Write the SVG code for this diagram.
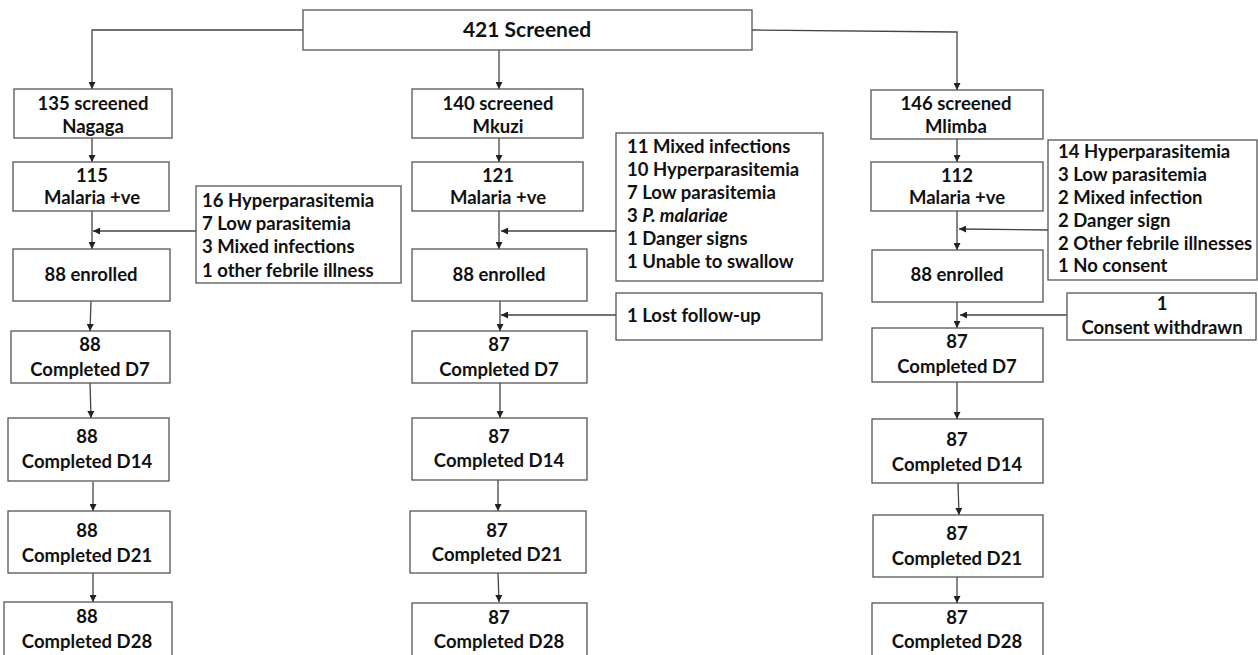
<svg xmlns="http://www.w3.org/2000/svg" width="1258" height="655" viewBox="0 0 1258 655">
<style>
.box{fill:#fff;stroke:#555;stroke-width:1.3}
.t{font-family:Lato,"Liberation Sans",sans-serif;font-weight:bold;font-size:18.5px;fill:#111;text-anchor:middle}
.s{font-family:Lato,"Liberation Sans",sans-serif;font-weight:bold;font-size:18.5px;fill:#111}
.c{fill:none;stroke:#444;stroke-width:1.3}
</style>
<defs>
<marker id="a" viewBox="0 0 10 10" refX="10" refY="5" markerWidth="7" markerHeight="7" markerUnits="userSpaceOnUse" orient="auto"><path d="M0,0L10,5L0,10z" fill="#222"/></marker>
</defs>
<g id="connectors">
<polyline class="c" points="303,30 92,30 92,89" marker-end="url(#a)"/>
<polyline class="c" points="752,30 957,32 957,90" marker-end="url(#a)"/>
<line class="c" x1="499" y1="50" x2="499" y2="89" marker-end="url(#a)"/>
<line class="c" x1="92" y1="138" x2="92" y2="162" marker-end="url(#a)"/>
<line class="c" x1="92" y1="211" x2="92" y2="249" marker-end="url(#a)"/>
<line class="c" x1="91" y1="301" x2="90" y2="331" marker-end="url(#a)"/>
<line class="c" x1="90" y1="383" x2="91" y2="418" marker-end="url(#a)"/>
<line class="c" x1="93" y1="482" x2="93" y2="511" marker-end="url(#a)"/>
<line class="c" x1="93" y1="573" x2="93" y2="602" marker-end="url(#a)"/>
<line class="c" x1="196" y1="231" x2="93" y2="231" marker-end="url(#a)"/>
<line class="c" x1="499" y1="138" x2="499" y2="162" marker-end="url(#a)"/>
<line class="c" x1="499" y1="211" x2="499" y2="249" marker-end="url(#a)"/>
<line class="c" x1="500" y1="301" x2="500" y2="331" marker-end="url(#a)"/>
<line class="c" x1="500" y1="383" x2="500" y2="418" marker-end="url(#a)"/>
<line class="c" x1="498" y1="480" x2="498" y2="511" marker-end="url(#a)"/>
<line class="c" x1="498" y1="573" x2="499" y2="602" marker-end="url(#a)"/>
<line class="c" x1="616" y1="231" x2="501" y2="231" marker-end="url(#a)"/>
<line class="c" x1="616" y1="315" x2="501" y2="315" marker-end="url(#a)"/>
<line class="c" x1="957" y1="139" x2="957" y2="162" marker-end="url(#a)"/>
<line class="c" x1="957" y1="211" x2="957" y2="250" marker-end="url(#a)"/>
<line class="c" x1="957" y1="302" x2="957" y2="328" marker-end="url(#a)"/>
<line class="c" x1="957" y1="382" x2="957" y2="419" marker-end="url(#a)"/>
<line class="c" x1="958" y1="483" x2="959" y2="515" marker-end="url(#a)"/>
<line class="c" x1="957" y1="577" x2="957" y2="603" marker-end="url(#a)"/>
<line class="c" x1="1048" y1="230" x2="959" y2="229" marker-end="url(#a)"/>
<line class="c" x1="1067" y1="315" x2="960" y2="315" marker-end="url(#a)"/>
</g>
<g id="n-total"><rect class="box" x="303" y="10" width="449" height="40"/><text class="t" x="527" y="37" style="font-size:21px">421 Screened</text></g>
<g id="n-nagaga"><rect class="box" x="14" y="89" width="158" height="49"/><text class="t" x="93" y="110">135 screened</text><text class="t" x="93" y="133">Nagaga</text></g>
<g id="n-nagaga-pos"><rect class="box" x="13" y="162" width="156" height="49"/><text class="t" x="92" y="182">115</text><text class="t" x="92" y="204">Malaria +ve</text></g>
<g id="n-nagaga-excl"><rect class="box" x="196" y="186" width="205" height="97"/><text class="s" x="202" y="207">16 Hyperparasitemia</text><text class="s" x="202" y="230">7 Low parasitemia</text><text class="s" x="202" y="253">3 Mixed infections</text><text class="s" x="202" y="277">1 other febrile  illness</text></g>
<g id="n-nagaga-enr"><rect class="box" x="13" y="249" width="157" height="52"/><text class="t" x="91" y="281">88 enrolled</text></g>
<g id="n-nagaga-d7"><rect class="box" x="11" y="331" width="159" height="52"/><text class="t" x="90" y="351">88</text><text class="t" x="90" y="376">Completed D7</text></g>
<g id="n-nagaga-d14"><rect class="box" x="8" y="418" width="161" height="63"/><text class="t" x="87" y="443">88</text><text class="t" x="87" y="468">Completed D14</text></g>
<g id="n-nagaga-d21"><rect class="box" x="8" y="511" width="162" height="62"/><text class="t" x="87" y="537">88</text><text class="t" x="87" y="562">Completed D21</text></g>
<g id="n-nagaga-d28"><rect class="box" x="4" y="602" width="168" height="60"/><text class="t" x="87" y="623">88</text><text class="t" x="87" y="648">Completed D28</text></g>
<g id="n-mkuzi"><rect class="box" x="412" y="89" width="171" height="49"/><text class="t" x="498" y="110">140 screened</text><text class="t" x="498" y="133">Mkuzi</text></g>
<g id="n-mkuzi-pos"><rect class="box" x="412" y="162" width="171" height="49"/><text class="t" x="498" y="182">121</text><text class="t" x="498" y="204">Malaria +ve</text></g>
<g id="n-mkuzi-excl"><rect class="box" x="616" y="133" width="207" height="148"/><text class="s" x="627" y="153">11 Mixed  infections</text><text class="s" x="627" y="176">10 Hyperparasitemia</text><text class="s" x="627" y="199">7 Low parasitemia</text><text class="s" x="627" y="222">3 <tspan font-style="italic">P. malariae</tspan></text><text class="s" x="627" y="245">1 Danger signs</text><text class="s" x="627" y="268">1 Unable to swallow</text></g>
<g id="n-mkuzi-enr"><rect class="box" x="412" y="249" width="175" height="52"/><text class="t" x="499" y="281">88 enrolled</text></g>
<g id="n-mkuzi-lost"><rect class="box" x="616" y="293" width="206" height="47"/><text class="s" x="627" y="322">1 Lost follow-up</text></g>
<g id="n-mkuzi-d7"><rect class="box" x="412" y="331" width="175" height="52"/><text class="t" x="499" y="351">87</text><text class="t" x="499" y="376">Completed D7</text></g>
<g id="n-mkuzi-d14"><rect class="box" x="412" y="418" width="175" height="62"/><text class="t" x="499" y="443">87</text><text class="t" x="499" y="467">Completed D14</text></g>
<g id="n-mkuzi-d21"><rect class="box" x="410" y="511" width="176" height="62"/><text class="t" x="497" y="537">87</text><text class="t" x="497" y="561">Completed D21</text></g>
<g id="n-mkuzi-d28"><rect class="box" x="412" y="603" width="175" height="60"/><text class="t" x="499" y="624">87</text><text class="t" x="499" y="648">Completed D28</text></g>
<g id="n-mlimba"><rect class="box" x="871" y="90" width="172" height="49"/><text class="t" x="956" y="110">146 screened</text><text class="t" x="956" y="133">Mlimba</text></g>
<g id="n-mlimba-pos"><rect class="box" x="871" y="162" width="172" height="49"/><text class="t" x="957" y="182">112</text><text class="t" x="957" y="204">Malaria +ve</text></g>
<g id="n-mlimba-excl"><rect class="box" x="1048" y="140" width="209" height="140"/><text class="s" x="1058" y="158">14 Hyperparasitemia</text><text class="s" x="1058" y="181">3 Low parasitemia</text><text class="s" x="1058" y="204">2 Mixed infection</text><text class="s" x="1058" y="227">2 Danger sign</text><text class="s" x="1058" y="250">2 Other febrile illnesses</text><text class="s" x="1058" y="272">1 No consent</text></g>
<g id="n-mlimba-enr"><rect class="box" x="872" y="250" width="171" height="52"/><text class="t" x="957" y="281">88 enrolled</text></g>
<g id="n-mlimba-wd"><rect class="box" x="1067" y="293" width="189" height="47"/><text class="t" x="1162" y="310">1</text><text class="t" x="1162" y="334">Consent withdrawn</text></g>
<g id="n-mlimba-d7"><rect class="box" x="872" y="328" width="171" height="54"/><text class="t" x="957" y="348">87</text><text class="t" x="957" y="373">Completed D7</text></g>
<g id="n-mlimba-d14"><rect class="box" x="872" y="419" width="171" height="64"/><text class="t" x="957" y="446">87</text><text class="t" x="957" y="471">Completed D14</text></g>
<g id="n-mlimba-d21"><rect class="box" x="873" y="515" width="170" height="62"/><text class="t" x="957" y="540">87</text><text class="t" x="957" y="565">Completed D21</text></g>
<g id="n-mlimba-d28"><rect class="box" x="872" y="603" width="171" height="60"/><text class="t" x="957" y="624">87</text><text class="t" x="957" y="648">Completed D28</text></g>
</svg>
